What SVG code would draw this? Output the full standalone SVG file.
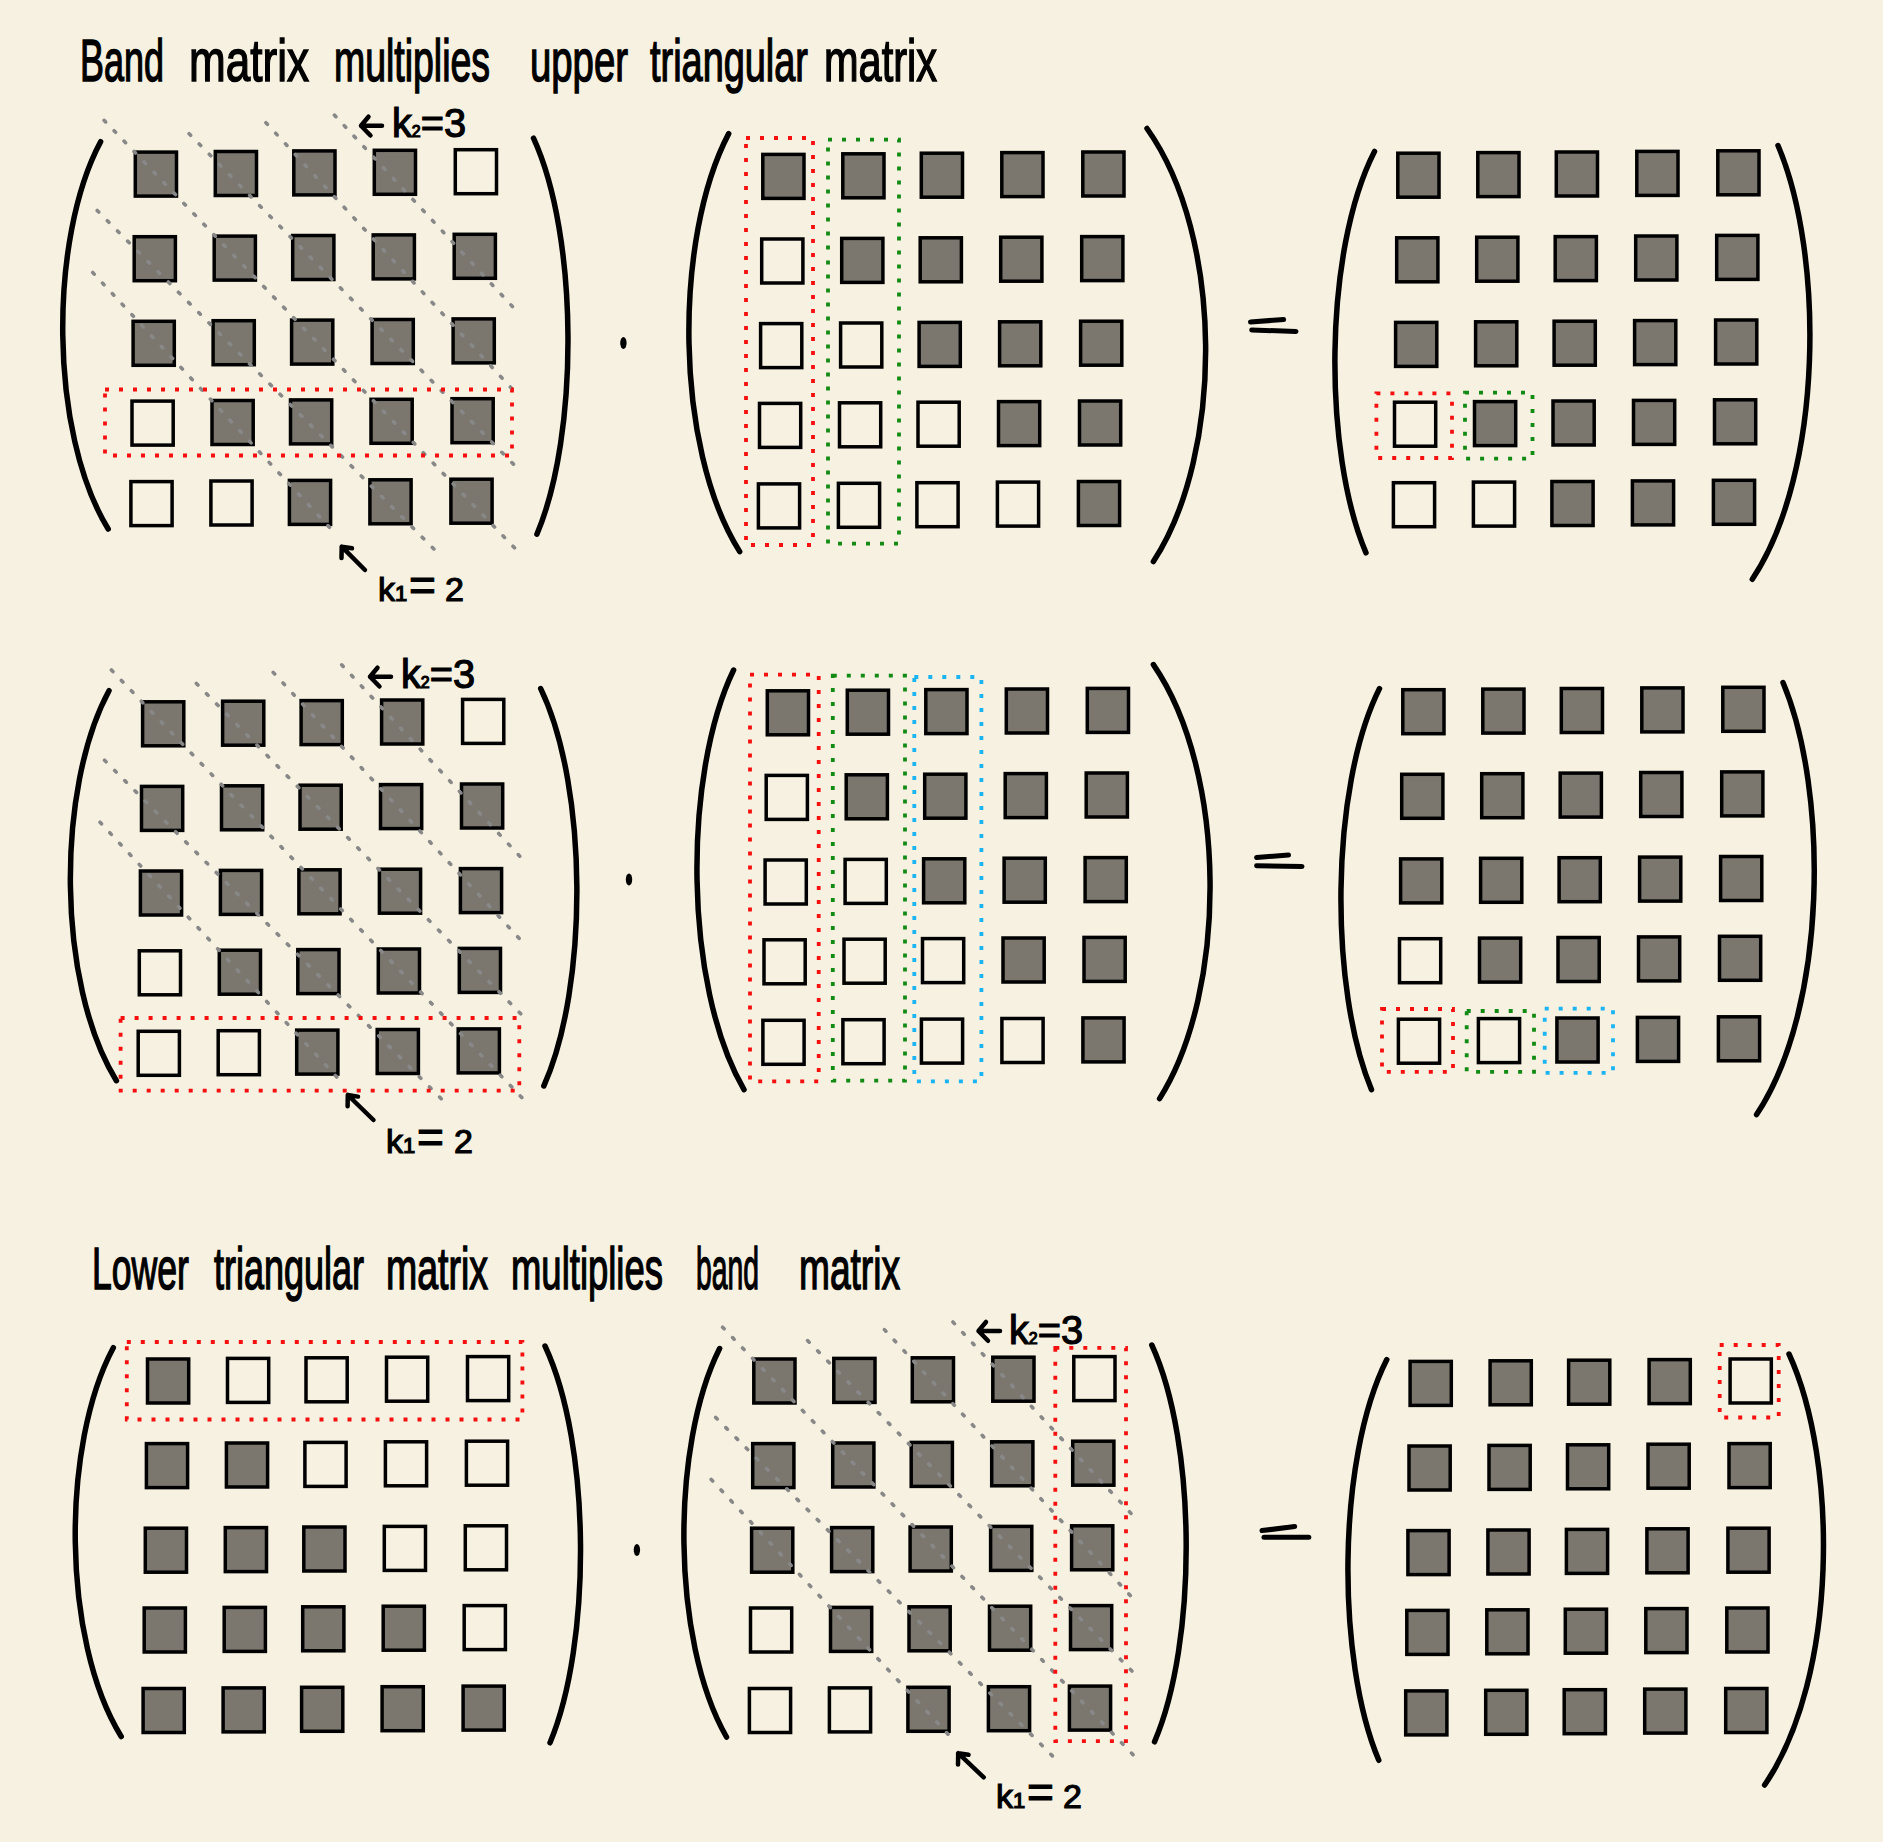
<svg xmlns="http://www.w3.org/2000/svg" xmlns:xlink="http://www.w3.org/1999/xlink" width="1883" height="1842" viewBox="0 0 1883 1842">
<style>
.bg{fill:#f6f1e1}
.f{fill:#7b776f;stroke:#000;stroke-width:3.5}
.e{fill:none;stroke:#000;stroke-width:3.5}
.paren{fill:none;stroke:#000;stroke-width:5.5;stroke-linecap:round}
.diag{fill:none;stroke:#888;stroke-width:3.6;stroke-dasharray:2.2 12.2;stroke-linecap:round}
.sel{fill:none;stroke-width:3.8;stroke-dasharray:4 10}
.red{stroke:#f50f0f}
.green{stroke:#138a13}
.blue{stroke:#1ab4f2}
.op{fill:none;stroke:#000;stroke-width:5;stroke-linecap:round}
.dot{fill:#000}
.title{font-family:"Liberation Sans","DejaVu Sans",sans-serif;font-size:40px;fill:#000;stroke:#000;stroke-width:1}
.lab{font-family:"Liberation Sans","DejaVu Sans",sans-serif;fill:#000;stroke:#000;stroke-width:1.2}
.arr{fill:none;stroke:#000;stroke-width:4.5;stroke-linecap:round;stroke-linejoin:round}
</style>
<defs>
<g id="diags">
<path class="diag" d="M-29.4,-30 L386.2,402.9"/>
<path class="diag" d="M55.6,-16.6 L384.5,318.5"/>
<path class="diag" d="M132.4,-27.6 L381.7,242"/>
<path class="diag" d="M200.9,-35.2 L381,158.4"/>
<path class="diag" d="M-36.3,60.2 L304.6,402.9"/>
<path class="diag" d="M-40.8,122.2 L198.5,379.7"/>
</g>
</defs>
<rect class="bg" x="0" y="0" width="1883" height="1842"/>

<g id="title-1">
<text class="title" transform="scale(1,1.5)" y="54"><tspan x="80" textLength="84" lengthAdjust="spacingAndGlyphs">Band</tspan> <tspan x="189" textLength="120" lengthAdjust="spacingAndGlyphs">matrix</tspan> <tspan x="334" textLength="156" lengthAdjust="spacingAndGlyphs">multiplies</tspan> <tspan x="530" textLength="98" lengthAdjust="spacingAndGlyphs">upper</tspan> <tspan x="650" textLength="158" lengthAdjust="spacingAndGlyphs">triangular</tspan> <tspan x="824" textLength="113" lengthAdjust="spacingAndGlyphs">matrix</tspan></text>
</g>

<!-- Section 1 -->
<g id="s1-band">
<path class="paren" d="M100.6,141.7 C48.9,238.5 48.9,432.2 108.2,529"/>
<path class="paren" d="M533.5,138.2 C578.9,237.2 578.9,435.2 536.9,534.2"/>
<g transform="translate(133.5,150.3)">
<rect class="f" x="1.8" y="1.8" width="41.2" height="44"/><rect class="f" x="81.8" y="1.2" width="41.2" height="44"/><rect class="f" x="160.3" y="0.6" width="41.2" height="44"/><rect class="f" x="240.8" y="0" width="41.2" height="44"/><rect class="e" x="321.8" y="-0.6" width="41.2" height="44"/>
<rect class="f" x="0.7" y="86.4" width="41.2" height="44"/><rect class="f" x="80.7" y="85.8" width="41.2" height="44"/><rect class="f" x="159.2" y="85.2" width="41.2" height="44"/><rect class="f" x="239.7" y="84.6" width="41.2" height="44"/><rect class="f" x="320.7" y="84" width="41.2" height="44"/>
<rect class="f" x="-0.4" y="171" width="41.2" height="44"/><rect class="f" x="79.6" y="170.4" width="41.2" height="44"/><rect class="f" x="158.1" y="169.8" width="41.2" height="44"/><rect class="f" x="238.6" y="169.2" width="41.2" height="44"/><rect class="f" x="319.6" y="168.6" width="41.2" height="44"/>
<rect class="e" x="-1.5" y="250.8" width="41.2" height="44"/><rect class="f" x="78.5" y="250.2" width="41.2" height="44"/><rect class="f" x="157" y="249.6" width="41.2" height="44"/><rect class="f" x="237.5" y="249" width="41.2" height="44"/><rect class="f" x="318.5" y="248.4" width="41.2" height="44"/>
<rect class="e" x="-2.6" y="331.3" width="41.2" height="44"/><rect class="e" x="77.4" y="330.7" width="41.2" height="44"/><rect class="f" x="155.9" y="330.1" width="41.2" height="44"/><rect class="f" x="236.4" y="329.5" width="41.2" height="44"/><rect class="f" x="317.4" y="328.9" width="41.2" height="44"/>
<use xlink:href="#diags" href="#diags"/>
</g>
<rect class="sel red" x="105" y="389.5" width="407" height="66"/>
</g>

<ellipse id="s1-times" class="dot" cx="623.4" cy="343" rx="3.2" ry="6"/>

<g id="s1-upper">
<path class="paren" d="M728.7,133.6 C673.9,238.1 673.9,447.1 739.7,551.6"/>
<path class="paren" d="M1147,128.5 C1224.1,236.8 1224.1,453.3 1153.4,561.5"/>
<g transform="translate(761,152.6)">
<rect class="f" x="1.8" y="1.8" width="41.2" height="44"/><rect class="f" x="81.8" y="1.2" width="41.2" height="44"/><rect class="f" x="160.3" y="0.6" width="41.2" height="44"/><rect class="f" x="240.8" y="0" width="41.2" height="44"/><rect class="f" x="321.8" y="-0.6" width="41.2" height="44"/>
<rect class="e" x="0.7" y="86.4" width="41.2" height="44"/><rect class="f" x="80.7" y="85.8" width="41.2" height="44"/><rect class="f" x="159.2" y="85.2" width="41.2" height="44"/><rect class="f" x="239.7" y="84.6" width="41.2" height="44"/><rect class="f" x="320.7" y="84" width="41.2" height="44"/>
<rect class="e" x="-0.4" y="171" width="41.2" height="44"/><rect class="e" x="79.6" y="170.4" width="41.2" height="44"/><rect class="f" x="158.1" y="169.8" width="41.2" height="44"/><rect class="f" x="238.6" y="169.2" width="41.2" height="44"/><rect class="f" x="319.6" y="168.6" width="41.2" height="44"/>
<rect class="e" x="-1.5" y="250.8" width="41.2" height="44"/><rect class="e" x="78.5" y="250.2" width="41.2" height="44"/><rect class="e" x="157" y="249.6" width="41.2" height="44"/><rect class="f" x="237.5" y="249" width="41.2" height="44"/><rect class="f" x="318.5" y="248.4" width="41.2" height="44"/>
<rect class="e" x="-2.6" y="331.3" width="41.2" height="44"/><rect class="e" x="77.4" y="330.7" width="41.2" height="44"/><rect class="e" x="155.9" y="330.1" width="41.2" height="44"/><rect class="e" x="236.4" y="329.5" width="41.2" height="44"/><rect class="f" x="317.4" y="328.9" width="41.2" height="44"/>
</g>
<rect class="sel red" x="746" y="138" width="67" height="407"/>
<rect class="sel green" x="828" y="139.6" width="71" height="404"/>
</g>

<g id="s1-equals">
<path class="op" d="M1250.5,322 L1283.6,319.5"/>
<path class="op" d="M1251.7,330 L1296,331.4"/>
</g>

<g id="s1-result">
<path class="paren" d="M1374.5,151.4 C1323.2,251.8 1323.2,452.5 1366,552.8"/>
<path class="paren" d="M1778,145.5 C1824.1,254 1824.1,470.9 1752.3,579.3"/>
<g transform="translate(1396,151.4)">
<rect class="f" x="1.8" y="1.8" width="41.2" height="44"/><rect class="f" x="81.8" y="1.2" width="41.2" height="44"/><rect class="f" x="160.3" y="0.6" width="41.2" height="44"/><rect class="f" x="240.8" y="0" width="41.2" height="44"/><rect class="f" x="321.8" y="-0.6" width="41.2" height="44"/>
<rect class="f" x="0.7" y="86.4" width="41.2" height="44"/><rect class="f" x="80.7" y="85.8" width="41.2" height="44"/><rect class="f" x="159.2" y="85.2" width="41.2" height="44"/><rect class="f" x="239.7" y="84.6" width="41.2" height="44"/><rect class="f" x="320.7" y="84" width="41.2" height="44"/>
<rect class="f" x="-0.4" y="171" width="41.2" height="44"/><rect class="f" x="79.6" y="170.4" width="41.2" height="44"/><rect class="f" x="158.1" y="169.8" width="41.2" height="44"/><rect class="f" x="238.6" y="169.2" width="41.2" height="44"/><rect class="f" x="319.6" y="168.6" width="41.2" height="44"/>
<rect class="e" x="-1.5" y="250.8" width="41.2" height="44"/><rect class="f" x="78.5" y="250.2" width="41.2" height="44"/><rect class="f" x="157" y="249.6" width="41.2" height="44"/><rect class="f" x="237.5" y="249" width="41.2" height="44"/><rect class="f" x="318.5" y="248.4" width="41.2" height="44"/>
<rect class="e" x="-2.6" y="331.3" width="41.2" height="44"/><rect class="e" x="77.4" y="330.7" width="41.2" height="44"/><rect class="f" x="155.9" y="330.1" width="41.2" height="44"/><rect class="f" x="236.4" y="329.5" width="41.2" height="44"/><rect class="f" x="317.4" y="328.9" width="41.2" height="44"/>
</g>
<rect class="sel red" x="1376.4" y="393.4" width="75.6" height="64.6"/>
<rect class="sel green" x="1465" y="392.6" width="67.5" height="66.1"/>
</g>

<!-- Section 2 -->
<g id="s2-band">
<path class="paren" d="M109,690.7 C56.3,788.2 56.3,983.2 116.4,1080.7"/>
<path class="paren" d="M540.7,688.6 C588.4,788 588.4,986.7 543.8,1086"/>
<g transform="translate(140.8,700)">
<rect class="f" x="1.8" y="1.8" width="41.2" height="44"/><rect class="f" x="81.8" y="1.2" width="41.2" height="44"/><rect class="f" x="160.3" y="0.6" width="41.2" height="44"/><rect class="f" x="240.8" y="0" width="41.2" height="44"/><rect class="e" x="321.8" y="-0.6" width="41.2" height="44"/>
<rect class="f" x="0.7" y="86.4" width="41.2" height="44"/><rect class="f" x="80.7" y="85.8" width="41.2" height="44"/><rect class="f" x="159.2" y="85.2" width="41.2" height="44"/><rect class="f" x="239.7" y="84.6" width="41.2" height="44"/><rect class="f" x="320.7" y="84" width="41.2" height="44"/>
<rect class="f" x="-0.4" y="171" width="41.2" height="44"/><rect class="f" x="79.6" y="170.4" width="41.2" height="44"/><rect class="f" x="158.1" y="169.8" width="41.2" height="44"/><rect class="f" x="238.6" y="169.2" width="41.2" height="44"/><rect class="f" x="319.6" y="168.6" width="41.2" height="44"/>
<rect class="e" x="-1.5" y="250.8" width="41.2" height="44"/><rect class="f" x="78.5" y="250.2" width="41.2" height="44"/><rect class="f" x="157" y="249.6" width="41.2" height="44"/><rect class="f" x="237.5" y="249" width="41.2" height="44"/><rect class="f" x="318.5" y="248.4" width="41.2" height="44"/>
<rect class="e" x="-2.6" y="331.3" width="41.2" height="44"/><rect class="e" x="77.4" y="330.7" width="41.2" height="44"/><rect class="f" x="155.9" y="330.1" width="41.2" height="44"/><rect class="f" x="236.4" y="329.5" width="41.2" height="44"/><rect class="f" x="317.4" y="328.9" width="41.2" height="44"/>
<use xlink:href="#diags" href="#diags"/>
</g>
<rect class="sel red" x="120.6" y="1018" width="398.7" height="72.7"/>
</g>

<ellipse id="s2-times" class="dot" cx="629" cy="879.6" rx="3.2" ry="6"/>

<g id="s2-upper">
<path class="paren" d="M733.6,670 C683.1,774.9 683.1,984.7 744,1089.6"/>
<path class="paren" d="M1153.4,664.6 C1227.9,773.1 1227.9,990.1 1159.6,1098.6"/>
<g transform="translate(765.5,689)">
<rect class="f" x="1.8" y="1.8" width="41.2" height="44"/><rect class="f" x="81.8" y="1.2" width="41.2" height="44"/><rect class="f" x="160.3" y="0.6" width="41.2" height="44"/><rect class="f" x="240.8" y="0" width="41.2" height="44"/><rect class="f" x="321.8" y="-0.6" width="41.2" height="44"/>
<rect class="e" x="0.7" y="86.4" width="41.2" height="44"/><rect class="f" x="80.7" y="85.8" width="41.2" height="44"/><rect class="f" x="159.2" y="85.2" width="41.2" height="44"/><rect class="f" x="239.7" y="84.6" width="41.2" height="44"/><rect class="f" x="320.7" y="84" width="41.2" height="44"/>
<rect class="e" x="-0.4" y="171" width="41.2" height="44"/><rect class="e" x="79.6" y="170.4" width="41.2" height="44"/><rect class="f" x="158.1" y="169.8" width="41.2" height="44"/><rect class="f" x="238.6" y="169.2" width="41.2" height="44"/><rect class="f" x="319.6" y="168.6" width="41.2" height="44"/>
<rect class="e" x="-1.5" y="250.8" width="41.2" height="44"/><rect class="e" x="78.5" y="250.2" width="41.2" height="44"/><rect class="e" x="157" y="249.6" width="41.2" height="44"/><rect class="f" x="237.5" y="249" width="41.2" height="44"/><rect class="f" x="318.5" y="248.4" width="41.2" height="44"/>
<rect class="e" x="-2.6" y="331.3" width="41.2" height="44"/><rect class="e" x="77.4" y="330.7" width="41.2" height="44"/><rect class="e" x="155.9" y="330.1" width="41.2" height="44"/><rect class="e" x="236.4" y="329.5" width="41.2" height="44"/><rect class="f" x="317.4" y="328.9" width="41.2" height="44"/>
</g>
<rect class="sel red" x="750" y="674.6" width="68.7" height="406.8"/>
<rect class="sel green" x="832.8" y="675.7" width="72.2" height="405"/>
<rect class="sel blue" x="914.3" y="677" width="67.1" height="404.4"/>
</g>

<g id="s2-equals">
<path class="op" d="M1256.6,857.5 L1288.5,855"/>
<path class="op" d="M1256.6,865.7 L1302,866.4"/>
</g>

<g id="s2-result">
<path class="paren" d="M1379.5,688.6 C1329.5,788.9 1329.5,989.4 1371.5,1089.6"/>
<path class="paren" d="M1783,682.5 C1828.3,790.5 1828.3,1006.6 1756.6,1114.6"/>
<g transform="translate(1401,687.9)">
<rect class="f" x="1.8" y="1.8" width="41.2" height="44"/><rect class="f" x="81.8" y="1.2" width="41.2" height="44"/><rect class="f" x="160.3" y="0.6" width="41.2" height="44"/><rect class="f" x="240.8" y="0" width="41.2" height="44"/><rect class="f" x="321.8" y="-0.6" width="41.2" height="44"/>
<rect class="f" x="0.7" y="86.4" width="41.2" height="44"/><rect class="f" x="80.7" y="85.8" width="41.2" height="44"/><rect class="f" x="159.2" y="85.2" width="41.2" height="44"/><rect class="f" x="239.7" y="84.6" width="41.2" height="44"/><rect class="f" x="320.7" y="84" width="41.2" height="44"/>
<rect class="f" x="-0.4" y="171" width="41.2" height="44"/><rect class="f" x="79.6" y="170.4" width="41.2" height="44"/><rect class="f" x="158.1" y="169.8" width="41.2" height="44"/><rect class="f" x="238.6" y="169.2" width="41.2" height="44"/><rect class="f" x="319.6" y="168.6" width="41.2" height="44"/>
<rect class="e" x="-1.5" y="250.8" width="41.2" height="44"/><rect class="f" x="78.5" y="250.2" width="41.2" height="44"/><rect class="f" x="157" y="249.6" width="41.2" height="44"/><rect class="f" x="237.5" y="249" width="41.2" height="44"/><rect class="f" x="318.5" y="248.4" width="41.2" height="44"/>
<rect class="e" x="-2.6" y="331.3" width="41.2" height="44"/><rect class="e" x="77.4" y="330.7" width="41.2" height="44"/><rect class="f" x="155.9" y="330.1" width="41.2" height="44"/><rect class="f" x="236.4" y="329.5" width="41.2" height="44"/><rect class="f" x="317.4" y="328.9" width="41.2" height="44"/>
</g>
<rect class="sel red" x="1382" y="1009" width="71" height="62.8"/>
<rect class="sel green" x="1466.7" y="1011" width="67.3" height="60.8"/>
<rect class="sel blue" x="1544.7" y="1008.6" width="68.3" height="64.3"/>
</g>

<!-- Section 3 -->
<g id="title-2">
<text class="title" transform="scale(1,1.5)" y="859.33"><tspan x="92" textLength="97" lengthAdjust="spacingAndGlyphs">Lower</tspan> <tspan x="214" textLength="150" lengthAdjust="spacingAndGlyphs">triangular</tspan> <tspan x="386" textLength="102" lengthAdjust="spacingAndGlyphs">matrix</tspan> <tspan x="511" textLength="152" lengthAdjust="spacingAndGlyphs">multiplies</tspan> <tspan x="696" textLength="63" lengthAdjust="spacingAndGlyphs">band</tspan> <tspan x="799" textLength="101" lengthAdjust="spacingAndGlyphs">matrix</tspan></text>
</g>

<g id="s3-lower">
<path class="paren" d="M113.3,1347.7 C61.3,1444.9 61.3,1639.3 121.2,1736.5"/>
<path class="paren" d="M545,1346 C591.5,1445.2 591.5,1643.6 550,1742.8"/>
<g transform="translate(145.7,1357.2)">
<rect class="f" x="1.8" y="1.8" width="41.2" height="44"/><rect class="e" x="81.8" y="1.2" width="41.2" height="44"/><rect class="e" x="160.3" y="0.6" width="41.2" height="44"/><rect class="e" x="240.8" y="0" width="41.2" height="44"/><rect class="e" x="321.8" y="-0.6" width="41.2" height="44"/>
<rect class="f" x="0.7" y="86.4" width="41.2" height="44"/><rect class="f" x="80.7" y="85.8" width="41.2" height="44"/><rect class="e" x="159.2" y="85.2" width="41.2" height="44"/><rect class="e" x="239.7" y="84.6" width="41.2" height="44"/><rect class="e" x="320.7" y="84" width="41.2" height="44"/>
<rect class="f" x="-0.4" y="171" width="41.2" height="44"/><rect class="f" x="79.6" y="170.4" width="41.2" height="44"/><rect class="f" x="158.1" y="169.8" width="41.2" height="44"/><rect class="e" x="238.6" y="169.2" width="41.2" height="44"/><rect class="e" x="319.6" y="168.6" width="41.2" height="44"/>
<rect class="f" x="-1.5" y="250.8" width="41.2" height="44"/><rect class="f" x="78.5" y="250.2" width="41.2" height="44"/><rect class="f" x="157" y="249.6" width="41.2" height="44"/><rect class="f" x="237.5" y="249" width="41.2" height="44"/><rect class="e" x="318.5" y="248.4" width="41.2" height="44"/>
<rect class="f" x="-2.6" y="331.3" width="41.2" height="44"/><rect class="f" x="77.4" y="330.7" width="41.2" height="44"/><rect class="f" x="155.9" y="330.1" width="41.2" height="44"/><rect class="f" x="236.4" y="329.5" width="41.2" height="44"/><rect class="f" x="317.4" y="328.9" width="41.2" height="44"/>
</g>
<rect class="sel red" x="126.8" y="1342" width="395.6" height="77.5"/>
</g>

<ellipse id="s3-times" class="dot" cx="636.9" cy="1550" rx="3.2" ry="6"/>

<g id="s3-band">
<path class="paren" d="M719.6,1348.5 C670.9,1445.6 670.9,1639.9 726.5,1737"/>
<path class="paren" d="M1151.8,1345 C1197.2,1444.2 1197.2,1642.6 1154.5,1741.8"/>
<g transform="translate(752,1357.2)">
<rect class="f" x="1.8" y="1.8" width="41.2" height="44"/><rect class="f" x="81.8" y="1.2" width="41.2" height="44"/><rect class="f" x="160.3" y="0.6" width="41.2" height="44"/><rect class="f" x="240.8" y="0" width="41.2" height="44"/><rect class="e" x="321.8" y="-0.6" width="41.2" height="44"/>
<rect class="f" x="0.7" y="86.4" width="41.2" height="44"/><rect class="f" x="80.7" y="85.8" width="41.2" height="44"/><rect class="f" x="159.2" y="85.2" width="41.2" height="44"/><rect class="f" x="239.7" y="84.6" width="41.2" height="44"/><rect class="f" x="320.7" y="84" width="41.2" height="44"/>
<rect class="f" x="-0.4" y="171" width="41.2" height="44"/><rect class="f" x="79.6" y="170.4" width="41.2" height="44"/><rect class="f" x="158.1" y="169.8" width="41.2" height="44"/><rect class="f" x="238.6" y="169.2" width="41.2" height="44"/><rect class="f" x="319.6" y="168.6" width="41.2" height="44"/>
<rect class="e" x="-1.5" y="250.8" width="41.2" height="44"/><rect class="f" x="78.5" y="250.2" width="41.2" height="44"/><rect class="f" x="157" y="249.6" width="41.2" height="44"/><rect class="f" x="237.5" y="249" width="41.2" height="44"/><rect class="f" x="318.5" y="248.4" width="41.2" height="44"/>
<rect class="e" x="-2.6" y="331.3" width="41.2" height="44"/><rect class="e" x="77.4" y="330.7" width="41.2" height="44"/><rect class="f" x="155.9" y="330.1" width="41.2" height="44"/><rect class="f" x="236.4" y="329.5" width="41.2" height="44"/><rect class="f" x="317.4" y="328.9" width="41.2" height="44"/>
<use xlink:href="#diags" href="#diags"/>
</g>
<rect class="sel red" x="1055.3" y="1347.9" width="70.7" height="393.2"/>
</g>

<g id="s3-equals">
<path class="op" d="M1262,1530.6 L1294.7,1526.6"/>
<path class="op" d="M1264,1537.3 L1308.8,1537.3"/>
</g>

<g id="s3-result">
<path class="paren" d="M1386.8,1359.6 C1336.4,1459.8 1336.4,1660.1 1378.8,1760.3"/>
<path class="paren" d="M1789,1354 C1838.4,1461.8 1838.4,1677.3 1764.6,1785"/>
<g transform="translate(1408.3,1359.6)">
<rect class="f" x="1.8" y="1.8" width="41.2" height="44"/><rect class="f" x="81.8" y="1.2" width="41.2" height="44"/><rect class="f" x="160.3" y="0.6" width="41.2" height="44"/><rect class="f" x="240.8" y="0" width="41.2" height="44"/><rect class="e" x="321.8" y="-0.6" width="41.2" height="44"/>
<rect class="f" x="0.7" y="86.4" width="41.2" height="44"/><rect class="f" x="80.7" y="85.8" width="41.2" height="44"/><rect class="f" x="159.2" y="85.2" width="41.2" height="44"/><rect class="f" x="239.7" y="84.6" width="41.2" height="44"/><rect class="f" x="320.7" y="84" width="41.2" height="44"/>
<rect class="f" x="-0.4" y="171" width="41.2" height="44"/><rect class="f" x="79.6" y="170.4" width="41.2" height="44"/><rect class="f" x="158.1" y="169.8" width="41.2" height="44"/><rect class="f" x="238.6" y="169.2" width="41.2" height="44"/><rect class="f" x="319.6" y="168.6" width="41.2" height="44"/>
<rect class="f" x="-1.5" y="250.8" width="41.2" height="44"/><rect class="f" x="78.5" y="250.2" width="41.2" height="44"/><rect class="f" x="157" y="249.6" width="41.2" height="44"/><rect class="f" x="237.5" y="249" width="41.2" height="44"/><rect class="f" x="318.5" y="248.4" width="41.2" height="44"/>
<rect class="f" x="-2.6" y="331.3" width="41.2" height="44"/><rect class="f" x="77.4" y="330.7" width="41.2" height="44"/><rect class="f" x="155.9" y="330.1" width="41.2" height="44"/><rect class="f" x="236.4" y="329.5" width="41.2" height="44"/><rect class="f" x="317.4" y="328.9" width="41.2" height="44"/>
</g>
<rect class="sel red" x="1719.7" y="1345" width="59" height="72.5"/>
</g>

<!-- annotation labels -->
<g id="s1-k2"><text class="lab" x="392" y="137" font-size="40" textLength="74" lengthAdjust="spacingAndGlyphs">k<tspan font-size="16">2</tspan>=3</text></g>
<g id="s1-k1"><text class="lab" y="601" font-size="34"><tspan x="378">k</tspan><tspan x="395" font-size="22">1</tspan><tspan x="409" font-size="46">=</tspan><tspan x="445">2</tspan></text></g>
<g id="s2-k2"><text class="lab" x="401" y="688" font-size="40" textLength="74" lengthAdjust="spacingAndGlyphs">k<tspan font-size="16">2</tspan>=3</text></g>
<g id="s2-k1"><text class="lab" y="1153" font-size="34"><tspan x="386">k</tspan><tspan x="403" font-size="22">1</tspan><tspan x="417" font-size="46">=</tspan><tspan x="454">2</tspan></text></g>
<g id="s3-k2"><text class="lab" x="1009" y="1344" font-size="40" textLength="74" lengthAdjust="spacingAndGlyphs">k<tspan font-size="16">2</tspan>=3</text></g>
<g id="s3-k1"><text class="lab" y="1808" font-size="34"><tspan x="996">k</tspan><tspan x="1013" font-size="22">1</tspan><tspan x="1027" font-size="46">=</tspan><tspan x="1063">2</tspan></text></g>

<g id="connectors">
<path class="arr" d="M382,125.7 L361,125.7 M368.5,116.7 L361,125.7 L370.5,135.5"/>
<path class="arr" d="M365,570 L341.7,546.7 M352,548.3 L341.7,546.7 L341.5,558"/>
<path class="arr" d="M391,676.7 L370,676.7 M377.5,667.7 L370,676.7 L379.5,686.5"/>
<path class="arr" d="M373.5,1120 L347.8,1095 M358,1096.6 L347.8,1095 L347.6,1106.3"/>
<path class="arr" d="M1000,1331 L978.5,1331 M986,1322 L978.5,1331 L988,1340.8"/>
<path class="arr" d="M983.7,1777.3 L958.2,1753.2 M968.5,1754.8 L958.2,1753.2 L958,1764.5"/>
</g>
</svg>
